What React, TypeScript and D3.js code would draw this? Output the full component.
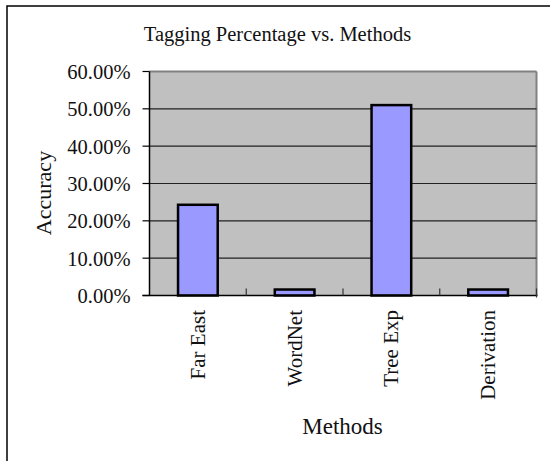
import * as d3 from 'd3'

const methods = ['Far East', 'WordNet', 'Tree Exp', 'Derivation']
const accuracy = [24.3, 1.6, 51.0, 1.6]
const yTicks = [0, 10, 20, 30, 40, 50, 60]

const W = 550
const H = 461
const plot = { left: 149.5, right: 536.5, top: 71.5, bottom: 295.5 }
const font = '"Liberation Serif", "Times New Roman", serif'

export default function App() {
    const x = d3.scaleBand<string>().domain(methods).range([plot.left, plot.right]).padding(0)
    const y = d3.scaleLinear().domain([0, 60]).range([plot.bottom, plot.top])
    const barW = x.bandwidth() * 0.41
    const fmt = (v: number) => v.toFixed(2) + '%'

    // band edges for the small category ticks
    const edges = methods.map(m => x(m)! + x.bandwidth())

    return (
        <svg width={W} height={H} style={{ position: 'absolute', left: 0, top: 0 }} fontFamily={font}>
            <rect x={0} y={0} width={W} height={H} fill="#fff" />
            {/* outer frame, runs off the right and bottom edge */}
            <rect x={7} y={6} width={700} height={700} fill="none" stroke="#000" strokeWidth={1.5} />

            <text x={277.5} y={41} textAnchor="middle" fontSize={20.5} fill="#111">
                Tagging Percentage vs. Methods
            </text>

            {/* plot area */}
            <rect x={plot.left} y={plot.top} width={plot.right - plot.left} height={plot.bottom - plot.top} fill="#c0c0c0" />
            <line x1={plot.left} x2={plot.right} y1={plot.top} y2={plot.top} stroke="#808080" strokeWidth={2} />
            <line x1={plot.right} x2={plot.right} y1={plot.top} y2={plot.bottom} stroke="#808080" strokeWidth={2} />

            {yTicks.filter(t => t > 0 && t < 60).map(t => (
                <line key={'g' + t} x1={plot.left} x2={plot.right} y1={y(t)} y2={y(t)} stroke="#222" strokeWidth={1.2} />
            ))}

            {methods.map((m, i) => (
                <rect key={m}
                    x={x(m)! + (x.bandwidth() - barW) / 2}
                    y={y(accuracy[i])}
                    width={barW}
                    height={y(0) - y(accuracy[i])}
                    fill="#9999ff" stroke="#000" strokeWidth={2.5} />
            ))}

            {/* y axis */}
            <line x1={plot.left} x2={plot.left} y1={plot.top} y2={plot.bottom} stroke="#000" strokeWidth={1.5} />
            {yTicks.map(t => (
                <g key={'y' + t}>
                    <line x1={plot.left - 7} x2={plot.left} y1={y(t)} y2={y(t)} stroke="#000" strokeWidth={1.2} />
                    <text x={130.5} y={y(t)} dy="0.36em" textAnchor="end" fontSize={20.5} fill="#111">{fmt(t)}</text>
                </g>
            ))}

            {/* x axis */}
            <line x1={plot.left - 7} x2={plot.right + 1} y1={plot.bottom} y2={plot.bottom} stroke="#000" strokeWidth={1.5} />
            {edges.map((e, i) => (
                <line key={'t' + i} x1={e} x2={e} y1={plot.bottom - 7} y2={plot.bottom + (i === edges.length - 1 ? 2 : 0)}
                    stroke="#333" strokeWidth={1.2} />
            ))}
            {methods.map(m => {
                const cx = x(m)! + x.bandwidth() / 2
                return (
                    <text key={'l' + m} transform={`translate(${cx},310) rotate(-90)`} dy="0.33em"
                        textAnchor="end" fontSize={21} fill="#111">{m}</text>
                )
            })}

            <text transform="translate(51,193) rotate(-90)" textAnchor="middle" fontSize={22} fill="#111">Accuracy</text>
            <text x={342.5} y={434} textAnchor="middle" fontSize={23} fill="#111">Methods</text>
        </svg>
    )
}
